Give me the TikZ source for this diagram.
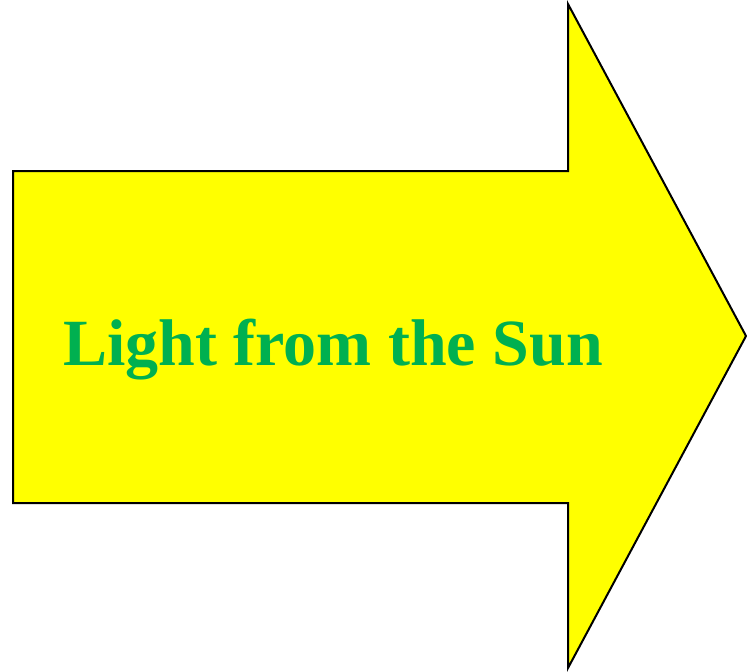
\documentclass[tikz,border=0pt]{standalone}
\usepackage{fontspec}
\setmainfont{Liberation Serif}
\usetikzlibrary{positioning}
\definecolor{sunyellow}{RGB}{255,255,0}
\definecolor{sungreen}{RGB}{0,176,80}

\begin{document}
\begin{tikzpicture}[x=1pt,y=-1pt]
    \useasboundingbox (0,0) rectangle (747,672);
    % arrow outline
    \draw[fill=sunyellow,line width=2pt,line join=miter]
        (13,171) -- (568,171) -- (568,4) -- (746,336) -- (568,668)
        -- (568,503) -- (13,503) -- cycle;
    \node[sungreen,inner sep=0pt,anchor=base,font=\fontsize{66}{70}\selectfont\bfseries]
        (label) at (333,365) {Light from the Sun};
\end{tikzpicture}
\end{document}
